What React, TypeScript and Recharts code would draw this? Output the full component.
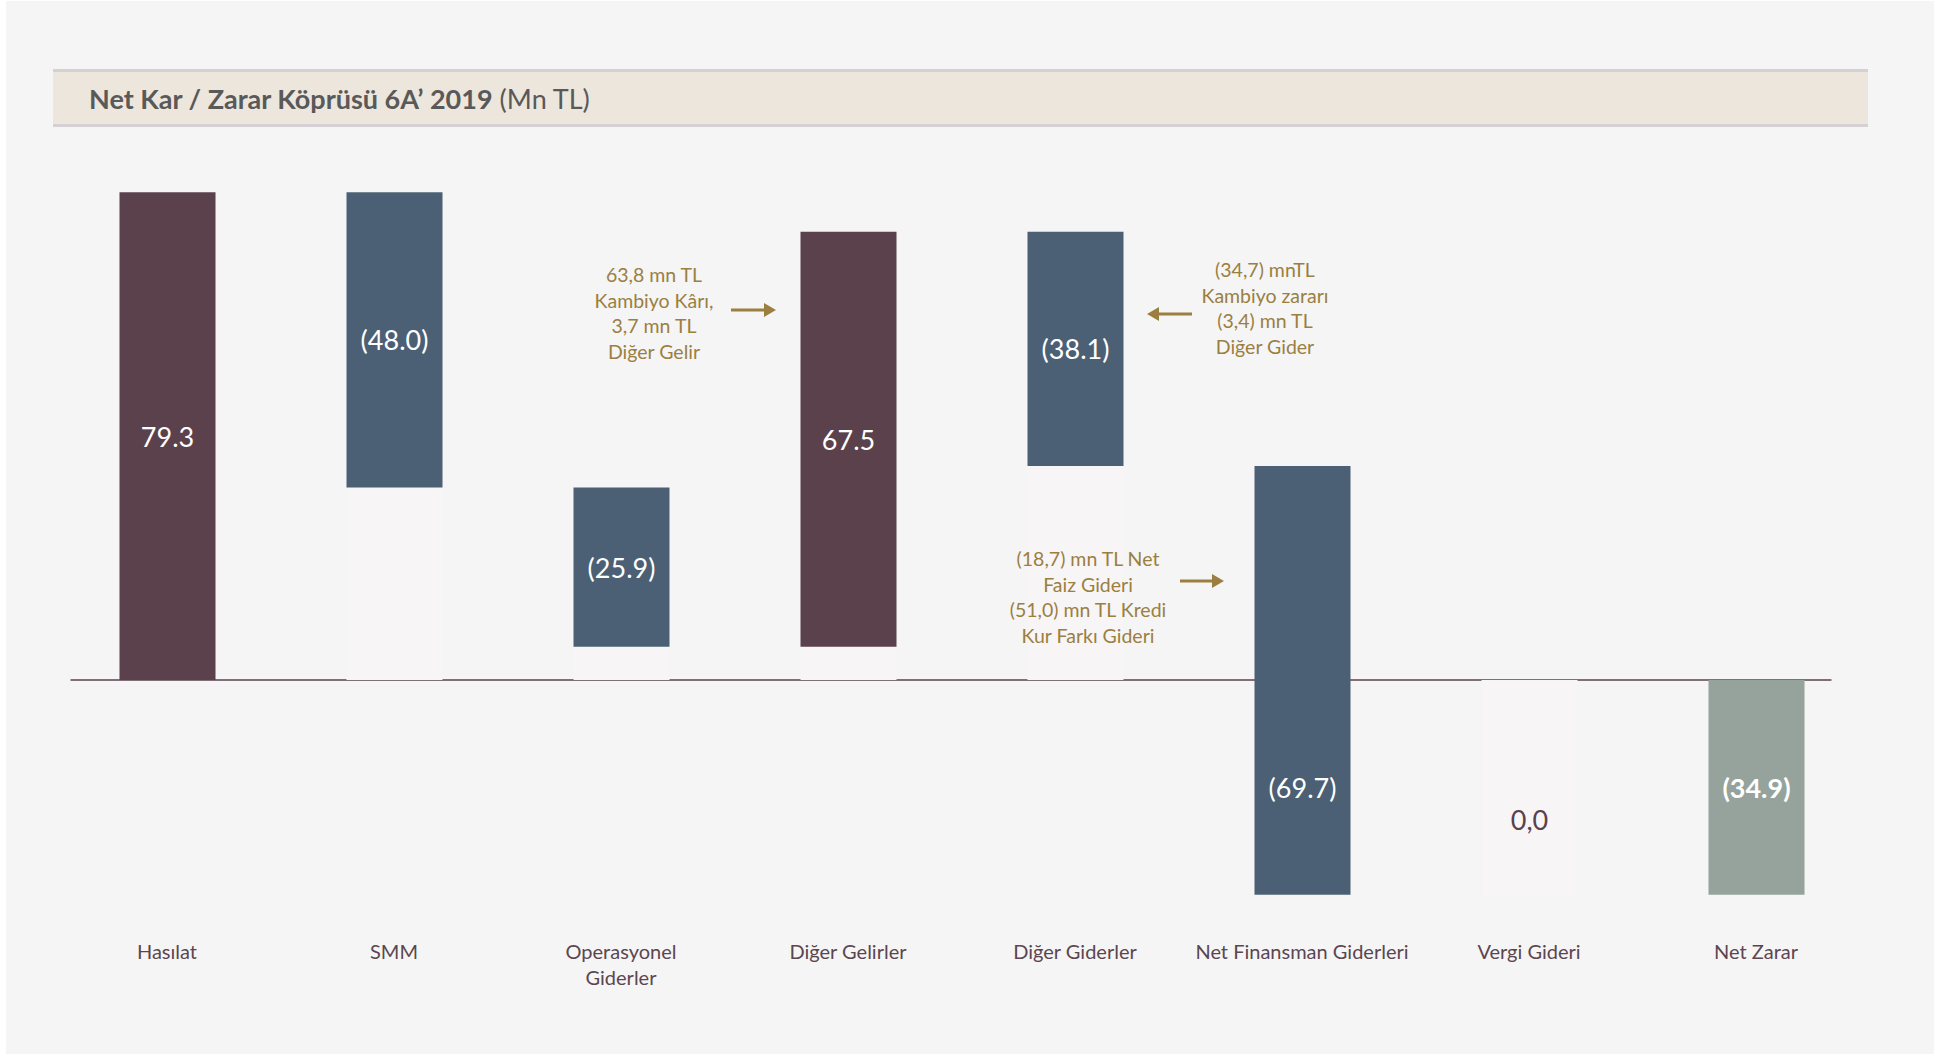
import React from 'react';
import { BarChart, Bar, XAxis, YAxis, Cell, LabelList, ReferenceLine } from 'recharts';

const categories = [
  'Hasılat',
  'SMM',
  'Operasyonel Giderler',
  'Diğer Gelirler',
  'Diğer Giderler',
  'Net Finansman Giderleri',
  'Vergi Gideri',
  'Net Zarar',
];
const tickLabels = [
  ['Hasılat'],
  ['SMM'],
  ['Operasyonel', 'Giderler'],
  ['Diğer Gelirler'],
  ['Diğer Giderler'],
  ['Net Finansman Giderleri'],
  ['Vergi Gideri'],
  ['Net Zarar'],
];
const deltas = [79.3, -48.0, -25.9, 67.5, -38.1, -69.7, 0.0, -34.9];
const isTotal = [true, false, false, false, false, false, false, true];
const valueLabels = ['79.3', '(48.0)', '(25.9)', '67.5', '(38.1)', '(69.7)', '0,0', '(34.9)'];
const labelBold = [false, false, false, false, false, false, false, true];
const barColors = ['#5a414b', '#4b6075', '#4b6075', '#5a414b', '#4b6075', '#4b6075', '#4b6075', '#95a39c'];

const annotations = [
  { lines: ['63,8 mn TL', 'Kambiyo Kârı,', '3,7 mn TL', 'Diğer Gelir'] },
  { lines: ['(34,7) mnTL', 'Kambiyo zararı', '(3,4) mn TL', 'Diğer Gider'] },
  { lines: ['(18,7) mn TL Net', 'Faiz Gideri', '(51,0) mn TL Kredi', 'Kur Farkı Gideri'] },
];

// build waterfall data from the deltas
let running = 0;
const data = categories.map((name, i) => {
  let start: number;
  let end: number;
  if (isTotal[i]) {
    start = 0;
    end = deltas[i];
  } else {
    start = running;
    end = running + deltas[i];
  }
  running = end;
  const lo = Math.min(start, end);
  const hi = Math.max(start, end);
  let spacer = 0;
  let visPos = 0;
  let visNeg = 0;
  if (lo > 0) {
    spacer = lo;
    visPos = hi - lo;
  } else if (hi < 0) {
    spacer = hi;
    visNeg = lo - hi;
  } else {
    visPos = hi;
    visNeg = lo;
  }
  let lblPos: string | null = null;
  let lblNeg: string | null = null;
  let lblSpacer: string | null = null;
  if (visPos === 0 && visNeg === 0) lblSpacer = valueLabels[i];
  else if (end < 0) lblNeg = valueLabels[i];
  else lblPos = valueLabels[i];
  return { name, spacer, visPos, visNeg, lblPos, lblNeg, lblSpacer };
});

const FONT = 'Lato, "Open Sans", sans-serif';
const ANN = '#9b7f41';
const TXT = '#5b4650';

const CatTick = (props: any) => {
  const { x, y, payload } = props;
  const i = categories.indexOf(payload.value);
  const lines = tickLabels[i] || [payload.value];
  return (
    <text x={x} y={y} textAnchor="middle" fill={TXT} fontFamily={FONT} fontSize={20}>
      {lines.map((l, k) => (
        <tspan key={k} x={x} dy={k === 0 ? 25 : 26}>
          {l}
        </tspan>
      ))}
    </text>
  );
};

const makeLabel = (which: 'pos' | 'neg' | 'spacer') => (props: any) => {
  const value = props.value;
  if (value === null || value === undefined || value === '') return null;
  const vb = props.viewBox || {};
  const x = Number(props.x ?? vb.x);
  const y = Number(props.y ?? vb.y);
  const width = Number(props.width ?? vb.width);
  const height = Number(props.height ?? vb.height);
  const idx = valueLabels.indexOf(String(value));
  const cx = x + width / 2;
  const cy = y + height / 2 + (which === 'spacer' ? 32 : 0);
  return (
    <text
      x={cx}
      y={cy}
      textAnchor="middle"
      dominantBaseline="central"
      fill={which === 'spacer' ? '#5a414b' : '#ffffff'}
      fontFamily={FONT}
      fontSize={27}
      fontWeight={idx >= 0 && labelBold[idx] ? 700 : 400}
    >
      {String(value)}
    </text>
  );
};

const Arrow = ({ x1, x2, y }: { x1: number; x2: number; y: number }) => {
  const dir = x2 > x1 ? 1 : -1;
  const headLen = 12;
  const bx = x2 - dir * headLen;
  return (
    <g>
      <line x1={x1} y1={y} x2={bx} y2={y} stroke={ANN} strokeWidth={3} />
      <polygon points={`${x2},${y} ${bx},${y - 7} ${bx},${y + 7}`} fill={ANN} />
    </g>
  );
};

const Annot = ({ cx, y0, lines, size }: { cx: number; y0: number; lines: string[]; size: number }) => (
  <text x={cx} y={y0} textAnchor="middle" fill={ANN} fontFamily={FONT} fontSize={size}>
    {lines.map((l, k) => (
      <tspan key={k} x={cx} dy={k === 0 ? 0 : 25.5}>
        {l}
      </tspan>
    ))}
  </text>
);

export default function App() {
  return (
    <div style={{ position: 'fixed', left: 0, top: 0, width: 1947, height: 1054, background: '#ffffff', overflow: 'hidden' }}>
      <div style={{ position: 'absolute', left: 6, top: 1, width: 1928, height: 1053, background: '#f5f5f5' }} />
      <div
        style={{
          position: 'absolute',
          left: 53,
          top: 69,
          width: 1815,
          height: 58,
          background: '#ede6dc',
          borderTop: '3px solid #d4d0d3',
          borderBottom: '3px solid #d4d0d3',
          display: 'flex',
          alignItems: 'center',
          paddingLeft: 36,
          boxSizing: 'border-box',
          fontFamily: FONT,
          fontSize: 27,
          color: '#595959',
          whiteSpace: 'nowrap',
        }}
      >
        <span style={{ fontWeight: 700 }}>Net Kar / Zarar Köprüsü 6A’ 2019</span>
        <span style={{ fontWeight: 400, marginLeft: 7 }}>(Mn TL)</span>
      </div>
      <div style={{ position: 'absolute', left: 0, top: 0 }}>
        <BarChart
          width={1947}
          height={1054}
          data={data}
          stackOffset="sign"
          barSize={96}
          margin={{ top: 188, right: 77.5, bottom: 68, left: 53.5 }}
        >
          <XAxis
            dataKey="name"
            axisLine={false}
            tickLine={false}
            interval={0}
            height={60}
            tick={<CatTick />}
          />
          <YAxis hide domain={[-40, 80]} allowDataOverflow />
          <ReferenceLine
            y={0}
            zIndex={100}
            shape={(p: any) => (
              <line x1={p.x1 + 17} x2={p.x2 - 38} y1={p.y1} y2={p.y2} stroke="#5a414b" strokeWidth={1.5} />
            )}
          />
          <Bar dataKey="spacer" stackId="w" isAnimationActive={false} fill="#f8f5f7">
            <LabelList dataKey="lblSpacer" content={makeLabel('spacer')} />
          </Bar>
          <Bar dataKey="visPos" stackId="w" isAnimationActive={false}>
            {data.map((d, i) => (
              <Cell key={i} fill={barColors[i]} />
            ))}
            <LabelList dataKey="lblPos" content={makeLabel('pos')} />
          </Bar>
          <Bar dataKey="visNeg" stackId="w" isAnimationActive={false}>
            {data.map((d, i) => (
              <Cell key={i} fill={barColors[i]} />
            ))}
            <LabelList dataKey="lblNeg" content={makeLabel('neg')} />
          </Bar>
        </BarChart>
      </div>
      <svg width={1947} height={1054} style={{ position: 'absolute', left: 0, top: 0, pointerEvents: 'none' }}>
        <Annot cx={654} y0={282} lines={annotations[0].lines} size={19.5} />
        <Arrow x1={731} x2={776} y={310} />
        <Annot cx={1265} y0={277} lines={annotations[1].lines} size={19.5} />
        <Arrow x1={1192} x2={1147} y={314} />
        <Annot cx={1088} y0={566} lines={annotations[2].lines} size={19.5} />
        <Arrow x1={1180} x2={1224} y={581} />
      </svg>
    </div>
  );
}
